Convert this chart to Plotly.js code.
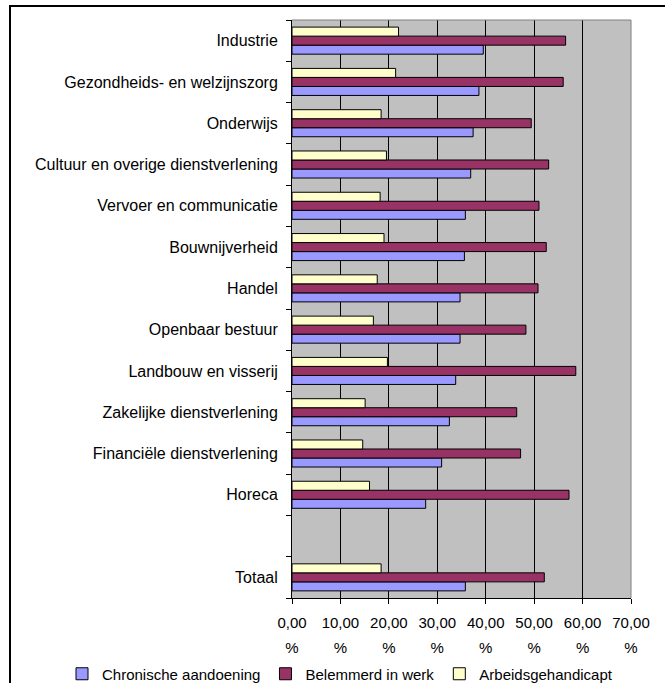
<!DOCTYPE html>
<html>
<head>
<meta charset="utf-8">
<script src="https://cdn.plot.ly/plotly-3.0.1.min.js"></script>
<style>
  html, body { margin: 0; padding: 0; background: #ffffff; }
  #chart { width: 665px; height: 683px; }
</style>
</head>
<body>
<div id="chart"></div>
<script>
// Categories, top to bottom as shown (blank spacer before "Totaal")
const categories = [
  "Industrie",
  "Gezondheids- en welzijnszorg",
  "Onderwijs",
  "Cultuur en overige dienstverlening",
  "Vervoer en communicatie",
  "Bouwnijverheid",
  "Handel",
  "Openbaar bestuur",
  "Landbouw en visserij",
  "Zakelijke dienstverlening",
  "Financiële dienstverlening",
  "Horeca",
  " ",
  "Totaal"
];

const chronischeAandoening = [39.5, 38.6, 37.4, 36.9, 35.8, 35.6, 34.7, 34.7, 33.8, 32.5, 30.9, 27.6, null, 35.8];
const belemmerdInWerk      = [56.5, 56.0, 49.4, 53.0, 51.0, 52.5, 50.8, 48.3, 58.6, 46.4, 47.2, 57.2, null, 52.1];
const arbeidsgehandicapt   = [22.0, 21.4, 18.4, 19.5, 18.2, 19.0, 17.6, 16.8, 19.7, 15.1, 14.6, 16.0, null, 18.4];

const seriesNames = ["Chronische aandoening", "Belemmerd in werk", "Arbeidsgehandicapt"];

const xTickVals = [0, 10, 20, 30, 40, 50, 60, 70];
const xTickNumbers = ["0,00", "10,00", "20,00", "30,00", "40,00", "50,00", "60,00", "70,00"];
const xTickUnit = ["%", "%", "%", "%", "%", "%", "%", "%"];

// --- layout constants ---
const W = 665, H = 683;
const M = { l: 292, r: 34, t: 20, b: 85, autoexpand: false };
const plotW = W - M.l - M.r, plotH = H - M.t - M.b;
const FONT = "Liberation Sans, Arial, sans-serif";
const colors = ["#9999FF", "#993366", "#FFFFCC"];

// Excel draws categories bottom-up, so feed reversed arrays
const rev = a => a.slice().reverse();
const catsBottomUp = rev(categories);
const seriesData = [chronischeAandoening, belemmerdInWerk, arbeidsgehandicapt];

const traces = seriesData.map((vals, i) => ({
  type: "bar",
  orientation: "h",
  name: seriesNames[i],
  x: rev(vals),
  y: catsBottomUp,
  marker: { color: colors[i], line: { color: "#000000", width: 1 } },
  hoverinfo: "x+y+name"
}));

const px2paperX = px => (px - M.l) / plotW;
const px2paperY = py => (H - M.b - py) / plotH;

const layout = {
  width: W, height: H,
  margin: M,
  paper_bgcolor: "rgba(0,0,0,0)",
  plot_bgcolor: "#C0C0C0",
  font: { family: FONT, size: 16, color: "#000000" },
  barmode: "group",
  bargap: 0.345,
  bargroupgap: 0,
  showlegend: true,
  legend: {
    orientation: "h",
    x: px2paperX(62), xanchor: "left",
    y: px2paperY(674), yanchor: "middle",
    font: { family: FONT, size: 15, color: "#000" },
    traceorder: "normal",
    itemwidth: 30,
    bgcolor: "rgba(0,0,0,0)"
  },
  xaxis: {
    range: [0, 70],
    tickvals: xTickVals,
    ticktext: xTickNumbers,
    ticks: "outside", ticklen: 5, tickcolor: "#000", tickwidth: 1,
    ticklabelstandoff: 6,
    showline: true, linecolor: "#000", linewidth: 1,
    showgrid: true, gridcolor: "#000", gridwidth: 1,
    zeroline: false,
    fixedrange: true,
    tickfont: { family: FONT, size: 15, color: "#000" }
  },
  xaxis2: {
    overlaying: "x", side: "bottom", anchor: "y",
    range: [0, 70],
    tickvals: xTickVals,
    ticktext: xTickUnit,
    ticks: "", showline: false, showgrid: false, zeroline: false,
    ticklabelstandoff: 39,
    fixedrange: true,
    tickfont: { family: FONT, size: 15, color: "#000" }
  },
  yaxis: {
    type: "category",
    categoryorder: "array",
    categoryarray: catsBottomUp,
    range: [-0.5, categories.length - 0.5],
    tickson: "boundaries",
    ticks: "outside", ticklen: 5, tickcolor: "#000", tickwidth: 1,
    ticklabelstandoff: 10,
    showline: true, linecolor: "#000", linewidth: 1,
    showgrid: false, zeroline: false,
    fixedrange: true,
    tickfont: { family: FONT, size: 16, color: "#000" }
  },
  shapes: [
    { type: "path", xref: "paper", yref: "paper",
      path: "M 0 1 L 1 1 L 1 0", line: { color: "#808080", width: 1 }, layer: "above" },
    { type: "rect", xref: "paper", yref: "paper",
      x0: px2paperX(10), x1: px2paperX(W + 20),
      y0: px2paperY(H + 20), y1: px2paperY(6),
      line: { color: "#000", width: 2 }, fillcolor: "rgba(0,0,0,0)", layer: "above" }
  ]
};

traces.push({
  type: "scatter", x: [0], y: [catsBottomUp[0]], xaxis: "x2", yaxis: "y",
  mode: "markers", marker: { opacity: 0 }, showlegend: false, hoverinfo: "skip"
});

Plotly.newPlot("chart", traces, layout, { displayModeBar: false, staticPlot: true });
</script>
</body>
</html>
